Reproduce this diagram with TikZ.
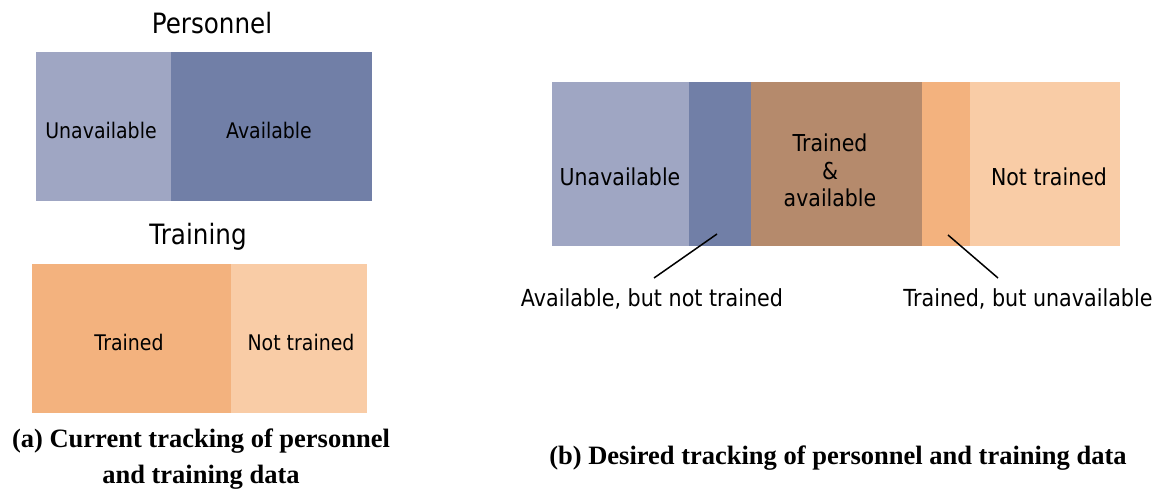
\documentclass[tikz,border=0pt]{standalone}
\usepackage{fontspec}
\newfontfamily\tah[FakeStretch=0.88]{DejaVu Sans}
\newfontfamily\capfont{Liberation Serif}
\definecolor{unavail}{HTML}{9FA6C3}
\definecolor{avail}{HTML}{717FA7}
\definecolor{both}{HTML}{B58A6C}
\definecolor{trained}{HTML}{F3B27E}
\definecolor{untrained}{HTML}{F9CCA6}
\tikzset{
  seg/.style={rectangle, draw=none, inner sep=0pt, outer sep=0pt, anchor=north west},
  ttl/.style={font=\tah\fontsize{28}{30}\selectfont, anchor=base, inner sep=0pt},
  lbl/.style={font=\tah\fontsize{21.5}{24}\selectfont, anchor=base, inner sep=0pt},
  rlbl/.style={font=\tah\fontsize{23.3}{27.5}\selectfont, anchor=base, inner sep=0pt, align=center},
  note/.style={font=\tah\fontsize{23.5}{26}\selectfont, anchor=base, inner sep=0pt},
  captxt/.style={font=\capfont\bfseries\fontsize{26.5}{36}\selectfont, anchor=base, inner sep=0pt, align=center},
  leader/.style={draw=black, line width=1.5pt}
}
\begin{document}
\begin{tikzpicture}[x=1pt, y=-1pt]
\useasboundingbox (0,0) rectangle (1163,489);

% (a) personnel bar
\node[ttl] (ptitle) at (212,34) {Personnel};
\node[seg, fill=unavail, minimum width=135pt, minimum height=149pt] (pun) at (36,52) {};
\node[seg, fill=avail, minimum width=201pt, minimum height=149pt] (pav) at (171,52) {};
\node[lbl] (tun) at (101,139) {Unavailable};
\node[lbl] (tav) at (269,139) {Available};

% (a) training bar
\node[ttl] (ttitle) at (198,245) {Training};
\node[seg, fill=trained, minimum width=199pt, minimum height=149pt] (ttr) at (32,264) {};
\node[seg, fill=untrained, minimum width=136pt, minimum height=149pt] (tnt) at (231,264) {};
\node[lbl] (ltr) at (129,351) {Trained};
\node[lbl] (lnt) at (301,351) {Not trained};

% two-line caption: base anchor sits on the last line
\node[captxt] (capa) at (201,483) {(a) Current tracking of personnel\\and training data};

% (b) combined bar
\node[seg, fill=unavail, minimum width=137pt, minimum height=164pt] (bun) at (552,82) {};
\node[seg, fill=avail, minimum width=62pt, minimum height=164pt] (bav) at (689,82) {};
\node[seg, fill=both, minimum width=171pt, minimum height=164pt] (bboth) at (751,82) {};
\node[seg, fill=trained, minimum width=48pt, minimum height=164pt] (btr) at (922,82) {};
\node[seg, fill=untrained, minimum width=150pt, minimum height=164pt] (bnt) at (970,82) {};

\node[rlbl] (run) at (620,186) {Unavailable};
\node[rlbl] (rboth) at (830,207) {Trained\\\&\\available};
\node[rlbl] (rnt) at (1049,186) {Not trained};

\node[note] (nav) at (652,307) {Available, but not trained};
\node[note] (ntr) at (1028,307) {Trained, but unavailable};

\coordinate (pav1) at (717,234);
\coordinate (qav1) at (654,278);
\coordinate (ptr1) at (948,235);
\coordinate (qtr1) at (998,278);
\draw[leader] (pav1) -- (qav1);
\draw[leader] (ptr1) -- (qtr1);

\node[captxt] (capb) at (838,464) {(b) Desired tracking of personnel and training data};
\end{tikzpicture}
\end{document}
